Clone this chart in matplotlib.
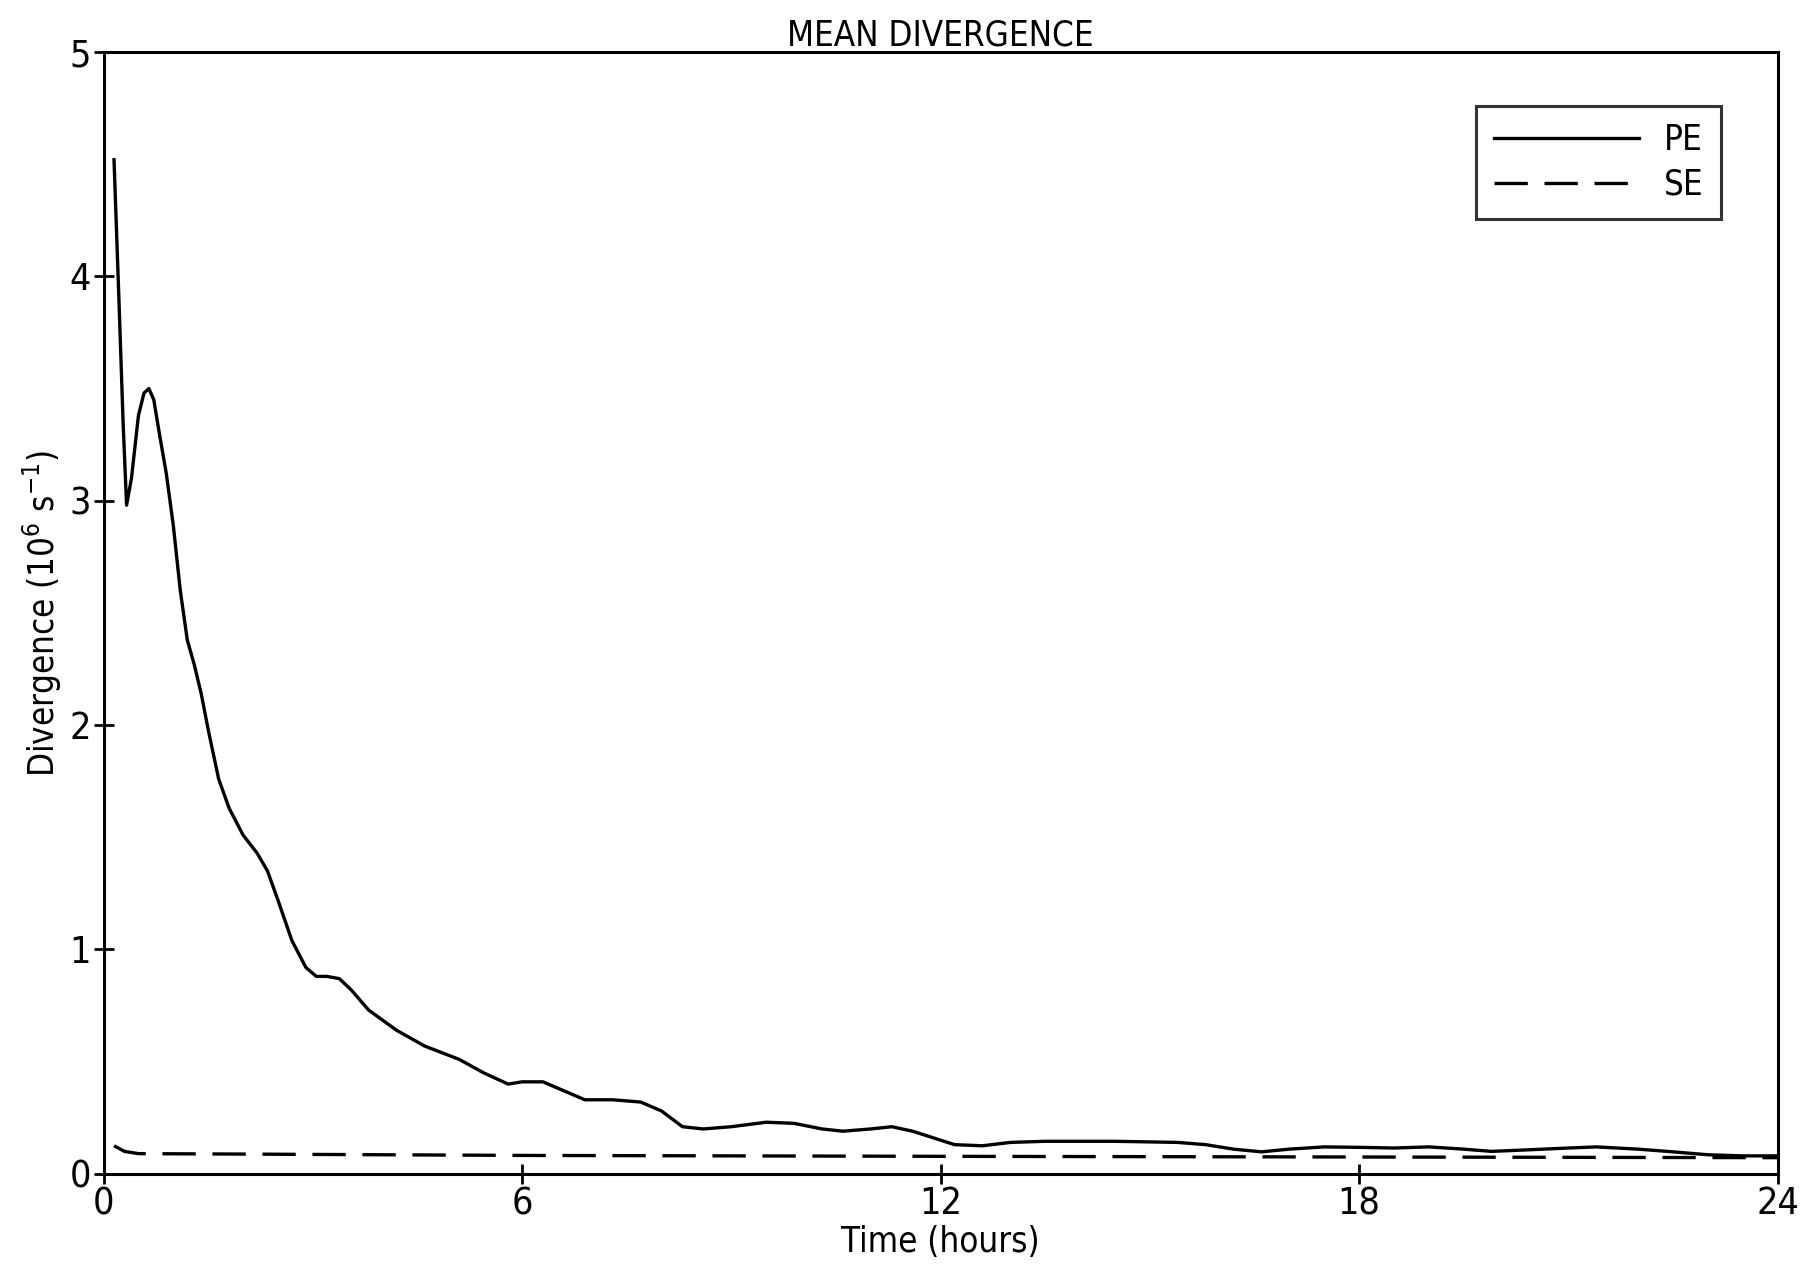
import matplotlib
matplotlib.use("Agg")
import matplotlib.pyplot as plt
from matplotlib import font_manager
import numpy as np

# PE run, mean divergence (10^6 s^-1) vs time (hours)
pe_t = [0.15, 0.22, 0.28, 0.33, 0.4, 0.5, 0.58, 0.65, 0.72, 0.8, 0.9, 1.0,
        1.1, 1.2, 1.3, 1.4, 1.5, 1.65, 1.8, 2.0, 2.2, 2.35, 2.5, 2.7, 2.9,
        3.05, 3.2, 3.38, 3.55, 3.8, 4.2, 4.6, 5.1, 5.45, 5.8, 6.0, 6.3, 6.6,
        6.9, 7.3, 7.7, 8.0, 8.3, 8.6, 9.0, 9.5, 9.9, 10.3, 10.6, 11.0, 11.3,
        11.6, 11.9, 12.2, 12.6, 13.0, 13.5, 14.5, 15.4, 15.8, 16.2, 16.6,
        17.0, 17.5, 18.0, 18.5, 19.0, 19.5, 19.9, 20.5, 21.0, 21.4, 22.0,
        22.5, 23.0, 23.5, 24.0]
pe_v = [4.52, 3.9, 3.35, 2.98, 3.1, 3.38, 3.48, 3.5, 3.45, 3.3, 3.12, 2.89,
        2.6, 2.38, 2.27, 2.14, 1.98, 1.76, 1.63, 1.51, 1.43, 1.35, 1.22, 1.04,
        0.92, 0.88, 0.88, 0.87, 0.82, 0.73, 0.64, 0.57, 0.51, 0.45, 0.40, 0.41,
        0.41, 0.37, 0.33, 0.33, 0.32, 0.28, 0.21, 0.20, 0.21, 0.23, 0.225,
        0.20, 0.19, 0.20, 0.21, 0.19, 0.16, 0.13, 0.125, 0.14, 0.145, 0.145,
        0.14, 0.13, 0.11, 0.098, 0.11, 0.12, 0.118, 0.115, 0.12, 0.11, 0.10,
        0.108, 0.115, 0.12, 0.11, 0.098, 0.085, 0.08, 0.08]

# SE run
se_t = [0.15, 0.3, 0.5, 2.0, 6.0, 12.0, 18.0, 24.0]
se_v = [0.125, 0.10, 0.09, 0.088, 0.082, 0.078, 0.075, 0.072]

xticks = [0, 6, 12, 18, 24]
yticks = [0, 1, 2, 3, 4, 5]

# narrow lettering like the plotter font, if a condensed face is around
names = {f.name for f in font_manager.fontManager.ttflist}
if 'DejaVu Sans Condensed' in names:
    plt.rcParams['font.family'] = ['DejaVu Sans Condensed', 'DejaVu Sans']
else:
    plt.rcParams['font.family'] = ['DejaVu Sans']
    plt.rcParams['font.stretch'] = 'condensed'

fig = plt.figure(figsize=(18.01, 12.69), dpi=100)
ax = fig.add_axes([0.0575, 0.075, 0.9295, 0.884])

ax.plot(pe_t, pe_v, color='black', lw=2.4, label='PE')
ax.plot(se_t, se_v, color='black', lw=2.4, ls=(0, (10, 5)), label='SE')

ax.set_xlim(0, 24)
ax.set_ylim(0, 5)
ax.set_xticks(xticks)
ax.set_yticks(yticks)
ax.tick_params(direction='inout', length=14, width=2, labelsize=27, pad=2)
for s in ax.spines.values():
    s.set_linewidth(2.2)

ax.set_title('MEAN DIVERGENCE', fontsize=25, pad=0)
ax.set_xlabel('Time (hours)', fontsize=25, labelpad=2)
ax.set_ylabel('Divergence (10$^6$ s$^{-1}$)', fontsize=25, labelpad=4)

leg = ax.legend(loc='upper right', bbox_to_anchor=(0.966, 0.952), fontsize=25,
                handlelength=4.2, frameon=True, fancybox=False, borderpad=0.5,
                labelspacing=0.3, handletextpad=0.7, borderaxespad=0)
leg.get_frame().set_edgecolor('black')
leg.get_frame().set_linewidth(2.2)

fig.savefig('out.png', dpi=100)
